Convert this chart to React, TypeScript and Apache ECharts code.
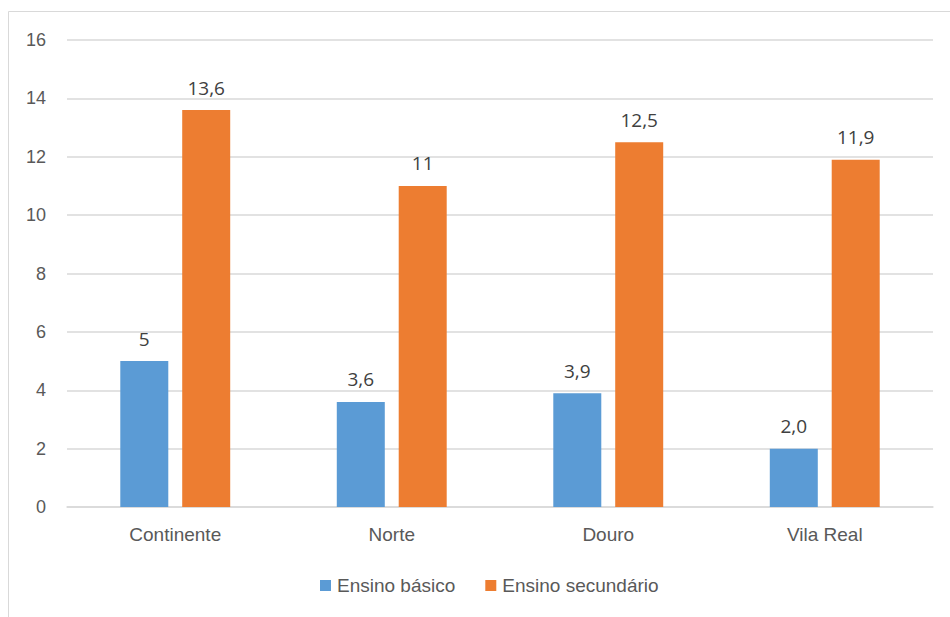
import React, { useEffect, useRef } from "react";
import * as echarts from "echarts";

const categories = ["Continente", "Norte", "Douro", "Vila Real"];
const basico = [5, 3.6, 3.9, 2.0];
const secundario = [13.6, 11, 12.5, 11.9];
const basicoLabels = ["5", "3,6", "3,9", "2,0"];
const secundarioLabels = ["13,6", "11", "12,5", "11,9"];
const seriesNames = ["Ensino básico", "Ensino secundário"];

export default function App() {
  const ref = useRef<HTMLDivElement>(null);
  useEffect(() => {
    if (!ref.current) return;
    const chart = echarts.init(ref.current, undefined, { renderer: "svg" });
    const labelStyle = {
      show: true,
      position: "top" as const,
      distance: 13,
      fontFamily: "Open Sans",
      fontSize: 19,
      color: "#404040",
    };
    chart.setOption({
      animation: false,
      backgroundColor: "#ffffff",
      graphic: [
        {
          type: "rect",
          shape: { x: 8.5, y: 11.5, width: 1000, height: 700 },
          style: { fill: "none", stroke: "#d9d9d9", lineWidth: 1 },
          silent: true,
        },
      ],
      grid: { left: 67, right: 17, top: 40, bottom: 110, containLabel: false },
      xAxis: {
        type: "category",
        data: categories,
        axisLine: { show: true, lineStyle: { color: "#d9d9d9", width: 1.5 } },
        axisTick: { show: false },
        axisLabel: {
          margin: 18,
          fontFamily: "Liberation Sans",
          fontSize: 19,
          color: "#595959",
        },
      },
      yAxis: {
        type: "value",
        min: 0,
        max: 16,
        interval: 2,
        axisLine: { show: false },
        axisTick: { show: false },
        splitLine: { lineStyle: { color: "#d9d9d9", width: 1.5 } },
        axisLabel: {
          margin: 21,
          fontFamily: "Liberation Sans",
          fontSize: 18,
          color: "#595959",
        },
      },
      legend: {
        bottom: 17,
        left: 315,
        itemWidth: 11,
        itemHeight: 11,
        itemGap: 30,
        icon: "rect",
        textStyle: { fontFamily: "Liberation Sans", fontSize: 19, color: "#595959", padding: [0, 0, 0, 1] },
        data: seriesNames,
      },
      series: [
        {
          name: seriesNames[0],
          type: "bar",
          data: basico,
          barWidth: 48,
          barGap: "29%",
          itemStyle: { color: "#5B9BD5" },
          label: { ...labelStyle, formatter: (p: any) => basicoLabels[p.dataIndex] },
        },
        {
          name: seriesNames[1],
          type: "bar",
          data: secundario,
          barWidth: 48,
          barGap: "29%",
          itemStyle: { color: "#ED7D31" },
          label: { ...labelStyle, formatter: (p: any) => secundarioLabels[p.dataIndex] },
        },
      ],
    });
    return () => chart.dispose();
  }, []);
  return (
    <div
      ref={ref}
      style={{ position: "fixed", left: 0, top: 0, width: 950, height: 617 }}
    />
  );
}
